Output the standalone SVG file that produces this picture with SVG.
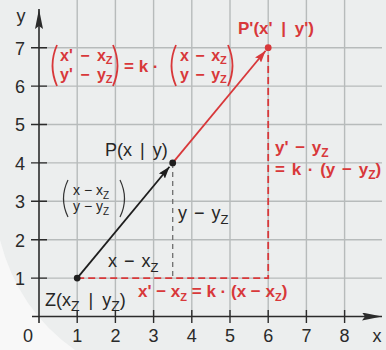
<svg xmlns="http://www.w3.org/2000/svg" width="386" height="350" viewBox="0 0 386 350">
<style>
.grid{stroke:#b7bbbb;stroke-width:1.4;fill:none}
.axis{stroke:#2b2b2b;stroke-width:1.6;fill:none}
.tick{stroke:#2b2b2b;stroke-width:1.4}
.lbl{font-family:"Liberation Sans",Arial,sans-serif;font-size:18px;fill:#2a2a2a}
.blk{font-family:"Liberation Sans",Arial,sans-serif;font-size:18px;fill:#262626;word-spacing:2px}
.sm{font-family:"Liberation Sans",Arial,sans-serif;font-size:14px;fill:#262626}
.red{font-family:"Liberation Sans",Arial,sans-serif;font-size:17px;font-weight:bold;fill:#d8383a}
.vec{font-size:16px;word-spacing:2px}
.sub{font-size:11px}
.rdash{stroke:#d8383a;stroke-width:1.8;stroke-dasharray:7 4;fill:none}
.gdash{stroke:#6e6e6e;stroke-width:1.3;stroke-dasharray:5 4;fill:none}
.rparen{stroke:#d8383a;stroke-width:1.8;fill:none}
.bparen{stroke:#333;stroke-width:1.2;fill:none}
</style>
<defs>
<marker id="ablack" viewBox="0 0 12 8" refX="12" refY="4" markerWidth="12" markerHeight="8" orient="auto" markerUnits="userSpaceOnUse"><path d="M0,0 L12,4 L0,8 L2,4 z" fill="#1e1e1e"/></marker>
<marker id="ared" viewBox="0 0 12 8" refX="12" refY="4" markerWidth="12" markerHeight="8" orient="auto" markerUnits="userSpaceOnUse"><path d="M0,0 L12,4 L0,8 L2,4 z" fill="#d8383a"/></marker>
<marker id="aaxis" viewBox="0 0 20 8" refX="20" refY="4" markerWidth="20" markerHeight="8" orient="auto" markerUnits="userSpaceOnUse"><path d="M0,0 L20,4 L0,8 L3,4 z" fill="#2b2b2b"/></marker>
</defs>
<rect x="0" y="0" width="386" height="350" fill="#eceeee"/>
<path d="M0,240 Q18,310 75,350 L0,350 Z" fill="#f8f8f8"/>
<g id="grid">
<path class="grid" d="M77.2,0V316.5M115.4,0V316.5M153.6,0V316.5M191.8,0V316.5M230,0V316.5M268.2,0V316.5M306.4,0V316.5M344.6,0V316.5"/>
<path class="grid" d="M39,278.1H382M39,239.7H382M39,201.3H382M39,162.9H382M39,124.5H382M39,86.1H382M39,47.7H382"/>
</g>
<g id="axes">
<line class="axis" x1="32" y1="316.5" x2="382" y2="316.5" marker-end="url(#aaxis)"/>
<line class="axis" x1="39" y1="323" x2="39" y2="9" marker-end="url(#aaxis)"/>
<path class="tick" d="M77.2,310V323M115.4,310V323M153.6,310V323M191.8,310V323M230,310V323M268.2,310V323M306.4,310V323M344.6,310V323"/>
<path class="tick" d="M31,278.1H47M31,239.7H47M31,201.3H47M31,162.9H47M31,124.5H47M31,86.1H47M31,47.7H47"/>
<g class="lbl" text-anchor="middle">
<text x="28" y="342">0</text><text x="77.2" y="342">1</text><text x="115.4" y="342">2</text><text x="153.6" y="342">3</text><text x="191.8" y="342">4</text><text x="230" y="342">5</text><text x="268.2" y="342">6</text><text x="306.4" y="342">7</text><text x="344.6" y="342">8</text><text x="377" y="342">x</text>
<text x="20" y="285">1</text><text x="20" y="246.5">2</text><text x="20" y="208">3</text><text x="20" y="169.5">4</text><text x="20" y="131">5</text><text x="20" y="92.5">6</text><text x="20" y="54.5">7</text><text x="21" y="22">y</text>
</g>
</g>
<g id="connectors">
<path class="rdash" d="M77.2,278.1H268.2V47.7"/>
<path class="gdash" d="M172.7,162.9V278.1"/>
<line x1="77.2" y1="278.1" x2="169.5" y2="166.8" stroke="#1e1e1e" stroke-width="1.8" marker-end="url(#ablack)"/>
<line x1="172.7" y1="162.9" x2="265.6" y2="50.8" stroke="#d8383a" stroke-width="1.8" marker-end="url(#ared)"/>
</g>
<g id="Z">
<circle cx="77.2" cy="278.1" r="3.4" fill="#1e1e1e"/>
<text class="blk" x="45" y="306" style="word-spacing:4px">Z(x<tspan font-size="14" dy="5">Z</tspan><tspan dy="-5"> | y</tspan><tspan font-size="14" dy="5">Z</tspan><tspan dy="-5">)</tspan></text>
</g>
<g id="P">
<circle cx="172.7" cy="162.9" r="3.4" fill="#1e1e1e"/>
<text class="blk" x="105" y="156" style="word-spacing:3px">P(x | y)</text>
</g>
<g id="Pprime">
<circle cx="268.2" cy="47.7" r="3.4" fill="#d8383a"/>
<text class="red" x="238" y="34" font-size="19" style="word-spacing:4px">P'(x' | y')</text>
</g>
<g id="vecZP">
<path class="bparen" d="M68,180 Q59,198.5 68,217"/>
<path class="bparen" d="M120,180 Q129,198.5 120,217"/>
<text class="sm" x="73" y="195">x − x<tspan font-size="10" dy="4">Z</tspan></text>
<text class="sm" x="73" y="211">y − y<tspan font-size="10" dy="4">Z</tspan></text>
</g>
<g id="dxdy">
<text class="blk" x="108" y="267">x − x<tspan font-size="13" dy="5">Z</tspan></text>
<text class="blk" x="178" y="219">y − y<tspan font-size="13" dy="5">Z</tspan></text>
</g>
<g id="formulaTop">
<path class="rparen" d="M57,45 Q48,65.5 57,86"/>
<path class="rparen" d="M113,45 Q122,65.5 113,86"/>
<text class="red vec" x="60" y="60.5" style="word-spacing:3px">x' − x<tspan class="sub" dy="3">Z</tspan></text>
<text class="red vec" x="60" y="79.5" style="word-spacing:3px">y' − y<tspan class="sub" dy="3">Z</tspan></text>
<text class="red" x="124" y="72" font-size="19">= k ·</text>
<path class="rparen" d="M176,45 Q167,65.5 176,86"/>
<path class="rparen" d="M228,45 Q237,65.5 228,86"/>
<text class="red vec" x="180" y="60.5">x − x<tspan class="sub" dy="3">Z</tspan></text>
<text class="red vec" x="180" y="79.5">y − y<tspan class="sub" dy="3">Z</tspan></text>
</g>
<g id="formulaX">
<text class="red" x="138" y="297">x' − x<tspan class="sub" dy="4">Z</tspan><tspan dy="-4"> = k · (x − x</tspan><tspan class="sub" dy="4">Z</tspan><tspan dy="-4">)</tspan></text>
</g>
<g id="formulaY">
<text class="red" x="275" y="153" font-size="19" style="word-spacing:2px">y' − y<tspan font-size="12" dy="4">Z</tspan></text>
<text class="red" x="275" y="175" font-size="19" style="word-spacing:2px">= k · (y − y<tspan font-size="12" dy="4">Z</tspan><tspan dy="-4">)</tspan></text>
</g>
</svg>
